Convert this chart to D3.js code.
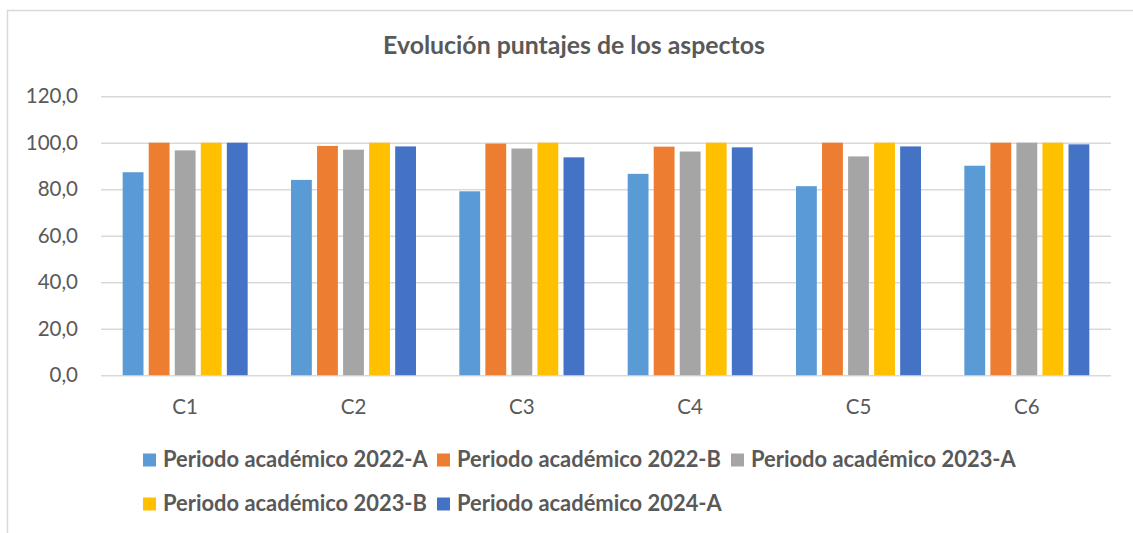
<!DOCTYPE html>
<html><head><meta charset="utf-8">
<script src="https://cdn.jsdelivr.net/npm/d3@7"></script>
<style>html,body{margin:0;padding:0;background:#fff;overflow:hidden}</style>
</head><body>
<svg id="chart" width="1133" height="533"></svg>
<script>
const categories = ["C1","C2","C3","C4","C5","C6"];
const seriesNames = ["Periodo académico 2022-A","Periodo académico 2022-B","Periodo académico 2023-A","Periodo académico 2023-B","Periodo académico 2024-A"];
const s2022A = [87.3, 84.0, 79.1, 86.6, 81.3, 90.1];
const s2022B = [100.0, 98.6, 99.6, 98.3, 100.0, 100.0];
const s2023A = [96.7, 97.0, 97.5, 96.2, 94.1, 100.0];
const s2023B = [100.0, 100.0, 100.0, 100.0, 100.0, 100.0];
const s2024A = [100.0, 98.4, 93.7, 98.0, 98.4, 99.3];
const yTicks = [0, 20, 40, 60, 80, 100, 120];
const colors = ["#5B9BD5","#ED7D31","#A5A5A5","#FFC000","#4472C4"];
const title = "Evolución puntajes de los aspectos";

const seriesValues = [s2022A, s2022B, s2023A, s2023B, s2024A];
const FONT = "Lato, 'Open Sans', sans-serif";
const TXT = "#595959";

const svg = d3.select("#chart");
// outer border
svg.append("rect").attr("x",7.5).attr("y",10.5).attr("width",1140).attr("height",540)
  .attr("fill","none").attr("stroke","#D9D9D9").attr("stroke-width",1.5);

const plot = {left:101, right:1111, top:96.2, bottom:375.2};
const y = d3.scaleLinear().domain([0,120]).range([plot.bottom, plot.top]);
const x0 = d3.scaleBand().domain(categories).range([plot.left, plot.right]).paddingInner(0).paddingOuter(0);
const groupW = 125;
const x1 = d3.scaleBand().domain(d3.range(seriesNames.length)).range([0, groupW]).paddingInner(0.2);

// gridlines
const yAxis = d3.axisLeft(y).tickValues(yTicks).tickSize(-(plot.right-plot.left))
  .tickFormat(d => d3.format(".1f")(d).replace(".", ","));
const gy = svg.append("g").attr("transform",`translate(${plot.left},0)`).call(yAxis);
gy.select(".domain").remove();
gy.selectAll(".tick line").attr("stroke","#D9D9D9").attr("stroke-width",1.5);
gy.selectAll(".tick text").attr("x",-23).attr("fill",TXT)
  .style("font-family",FONT).style("font-size","20.5px");

// bars
const data = [];
categories.forEach((c,i) => seriesValues.forEach((s,j) => data.push({c, j, v:s[i]})));
svg.append("g").selectAll("rect").data(data).join("rect")
  .attr("x", d => x0(d.c) + (x0.bandwidth()-groupW)/2 + x1(d.j))
  .attr("width", x1.bandwidth())
  .attr("y", d => y(d.v))
  .attr("height", d => y(0) - y(d.v))
  .attr("fill", d => colors[d.j]);

// x axis labels
const xAxis = d3.axisBottom(x0).tickSize(0).tickPadding(0);
const gx = svg.append("g").attr("transform",`translate(0,${plot.bottom})`).call(xAxis);
gx.select(".domain").remove();
gx.selectAll(".tick text").attr("y",39).attr("dy",0).attr("fill",TXT)
  .style("font-family",FONT).style("font-size","20.5px");

// title
const t = svg.append("text").attr("x",574).attr("y",54).attr("text-anchor","middle")
  .attr("fill",TXT).style("font-family",FONT).style("font-weight","bold").style("font-size","20px").text(title);
const tw = t.node().getComputedTextLength();
t.style("font-size", (20*382/tw)+"px");

// legend
const leg = svg.append("g");
let lx = 143;
const rowsY = [460, 504];
let measureSize = null;
seriesNames.forEach((name,i) => {
  const row = i < 3 ? 0 : 1;
  if (i === 3) lx = 143;
  const cy = rowsY[row];
  leg.append("rect").attr("x",lx).attr("y",cy-6.5).attr("width",13).attr("height",13).attr("fill",colors[i]);
  const tx = leg.append("text").attr("x",lx+20).attr("y",cy+7).attr("fill",TXT)
    .style("font-family",FONT).style("font-weight","bold").style("font-size","20px").text(name);
  if (measureSize === null) {
    const w = tx.node().getComputedTextLength();
    measureSize = 20*265/w;
  }
  tx.style("font-size", measureSize+"px");
  lx += 294;
});
</script>
</body></html>
